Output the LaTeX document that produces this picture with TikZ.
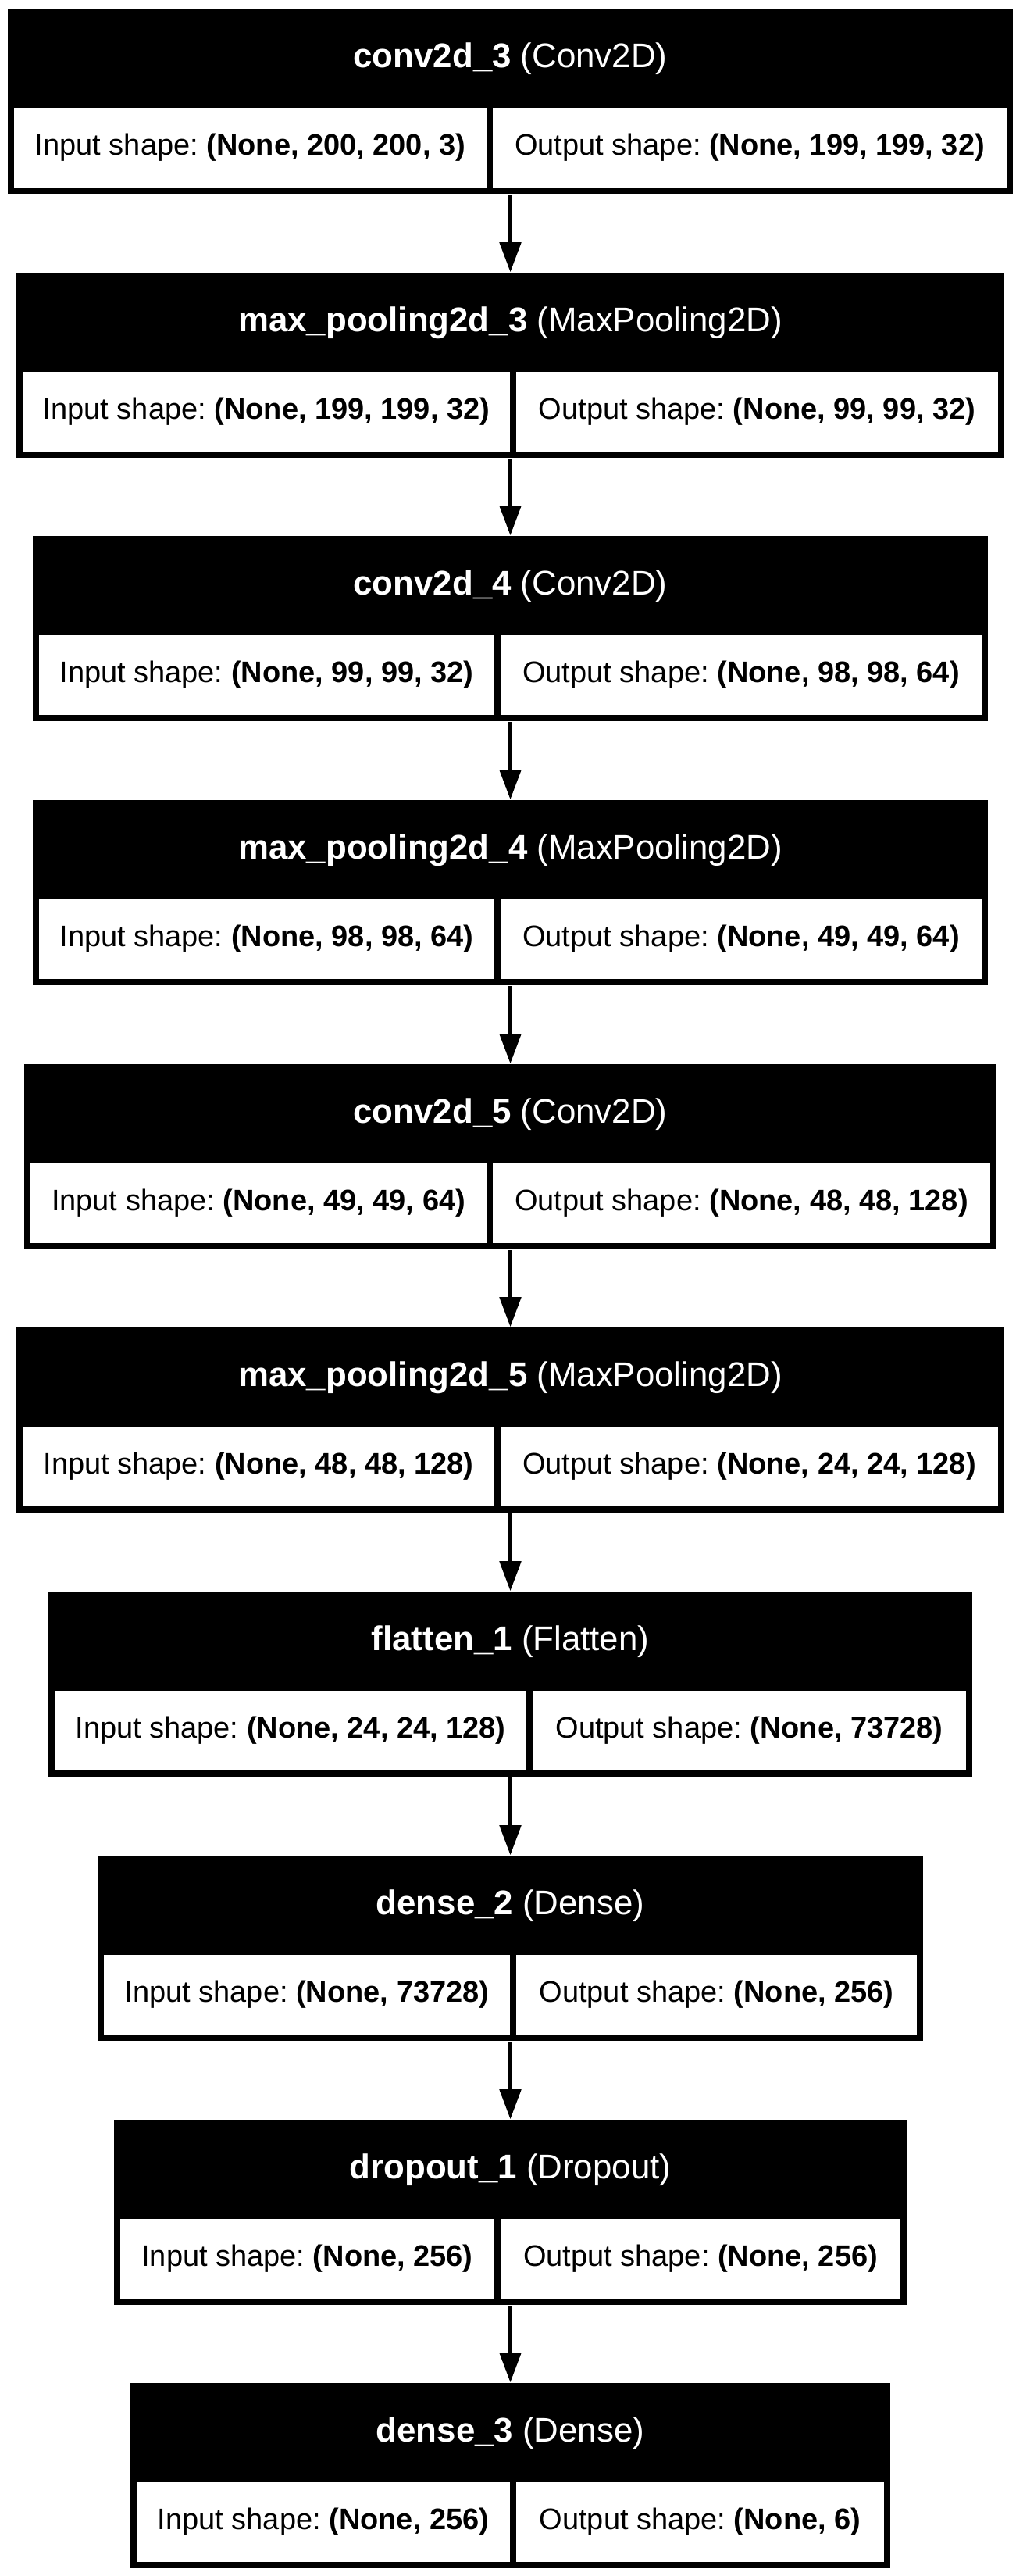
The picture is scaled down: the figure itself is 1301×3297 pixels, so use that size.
\documentclass[tikz,border=0pt]{standalone}
\usepackage{fontspec}
\setmainfont{Liberation Sans}
\usetikzlibrary{arrows.meta}
\frenchspacing
\tikzset{
  layer/.style={fill=black, inner sep=0pt, minimum height=2.37cm},
  layername/.style={text=white, inner sep=0pt, font=\fontsize{12.46pt}{15pt}\selectfont},
  cell/.style={fill=white, inner sep=0pt, minimum height=1.02cm, font=\fontsize{10.8pt}{13pt}\selectfont},
  flow/.style={line width=0.05cm, -{Triangle[length=0.38cm, width=0.27cm]}}
}
\begin{document}
\begin{tikzpicture}[x=0.01cm, y=-0.01cm]
            \useasboundingbox (0,0) rectangle (1301,3297);

            % Layer conv2d_3
            \node [layer, minimum width=12.87cm] (conv3) at (653.5,129.5) {};
            \node [layername] (conv3-name) at (653.5,75) {\textbf{conv2d\_3} (Conv2D)};
            \node [cell, minimum width=6.05cm] (conv3-in) at (320.5,189) {Input shape: \textbf{(None, 200, 200, 3)}};
            \node [cell, minimum width=6.58cm] (conv3-out) at (960,189) {Output shape: \textbf{(None, 199, 199, 32)}};

            % Layer max_pooling2d_3
            \node [layer, minimum width=12.65cm] (pool3) at (653.5,467.5) {};
            \node [layername] (pool3-name) at (653.5,413) {\textbf{max\_pooling2d\_3} (MaxPooling2D)};
            \node [cell, minimum width=6.24cm] (pool3-in) at (341,527) {Input shape: \textbf{(None, 199, 199, 32)}};
            \node [cell, minimum width=6.17cm] (pool3-out) at (969.5,527) {Output shape: \textbf{(None, 99, 99, 32)}};

            % Layer conv2d_4
            \node [layer, minimum width=12.23cm] (conv4) at (653.5,804.5) {};
            \node [layername] (conv4-name) at (653.5,750) {\textbf{conv2d\_4} (Conv2D)};
            \node [cell, minimum width=5.83cm] (conv4-in) at (341.5,864) {Input shape: \textbf{(None, 99, 99, 32)}};
            \node [cell, minimum width=6.16cm] (conv4-out) at (949,864) {Output shape: \textbf{(None, 98, 98, 64)}};

            % Layer max_pooling2d_4
            \node [layer, minimum width=12.23cm] (pool4) at (653.5,1142.5) {};
            \node [layername] (pool4-name) at (653.5,1088) {\textbf{max\_pooling2d\_4} (MaxPooling2D)};
            \node [cell, minimum width=5.83cm] (pool4-in) at (341.5,1202) {Input shape: \textbf{(None, 98, 98, 64)}};
            \node [cell, minimum width=6.16cm] (pool4-out) at (949,1202) {Output shape: \textbf{(None, 49, 49, 64)}};

            % Layer conv2d_5
            \node [layer, minimum width=12.45cm] (conv5) at (653.5,1480.5) {};
            \node [layername] (conv5-name) at (653.5,1426) {\textbf{conv2d\_5} (Conv2D)};
            \node [cell, minimum width=5.84cm] (conv5-in) at (331,1540) {Input shape: \textbf{(None, 49, 49, 64)}};
            \node [cell, minimum width=6.37cm] (conv5-out) at (949.5,1540) {Output shape: \textbf{(None, 48, 48, 128)}};

            % Layer max_pooling2d_5
            \node [layer, minimum width=12.65cm] (pool5) at (653.5,1817.5) {};
            \node [layername] (pool5-name) at (653.5,1763) {\textbf{max\_pooling2d\_5} (MaxPooling2D)};
            \node [cell, minimum width=6.04cm] (pool5-in) at (331,1877) {Input shape: \textbf{(None, 48, 48, 128)}};
            \node [cell, minimum width=6.37cm] (pool5-out) at (959.5,1877) {Output shape: \textbf{(None, 24, 24, 128)}};

            % Layer flatten_1
            \node [layer, minimum width=11.83cm] (flat1) at (653.5,2155.5) {};
            \node [layername] (flat1-name) at (653.5,2101) {\textbf{flatten\_1} (Flatten)};
            \node [cell, minimum width=6.04cm] (flat1-in) at (372,2215) {Input shape: \textbf{(None, 24, 24, 128)}};
            \node [cell, minimum width=5.55cm] (flat1-out) at (959.5,2215) {Output shape: \textbf{(None, 73728)}};

            % Layer dense_2
            \node [layer, minimum width=10.57cm] (dense2) at (653.5,2493.5) {};
            \node [layername] (dense2-name) at (653.5,2439) {\textbf{dense\_2} (Dense)};
            \node [cell, minimum width=5.20cm] (dense2-in) at (393,2553) {Input shape: \textbf{(None, 73728)}};
            \node [cell, minimum width=5.13cm] (dense2-out) at (917.5,2553) {Output shape: \textbf{(None, 256)}};

            % Layer dropout_1
            \node [layer, minimum width=10.15cm] (drop1) at (653.5,2831.5) {};
            \node [layername] (drop1-name) at (653.5,2777) {\textbf{dropout\_1} (Dropout)};
            \node [cell, minimum width=4.79cm] (drop1-in) at (393.5,2891) {Input shape: \textbf{(None, 256)}};
            \node [cell, minimum width=5.12cm] (drop1-out) at (897,2891) {Output shape: \textbf{(None, 256)}};

            % Layer dense_3
            \node [layer, minimum width=9.73cm] (dense3) at (653.5,3168.5) {};
            \node [layername] (dense3-name) at (653.5,3114) {\textbf{dense\_3} (Dense)};
            \node [cell, minimum width=4.78cm] (dense3-in) at (414,3228) {Input shape: \textbf{(None, 256)}};
            \node [cell, minimum width=4.71cm] (dense3-out) at (896.5,3228) {Output shape: \textbf{(None, 6)}};

            % Drawing the flow between layers
            \draw [flow] (conv3) -- (pool3);
            \draw [flow] (pool3) -- (conv4);
            \draw [flow] (conv4) -- (pool4);
            \draw [flow] (pool4) -- (conv5);
            \draw [flow] (conv5) -- (pool5);
            \draw [flow] (pool5) -- (flat1);
            \draw [flow] (flat1) -- (dense2);
            \draw [flow] (dense2) -- (drop1);
            \draw [flow] (drop1) -- (dense3);
\end{tikzpicture}
\end{document}
